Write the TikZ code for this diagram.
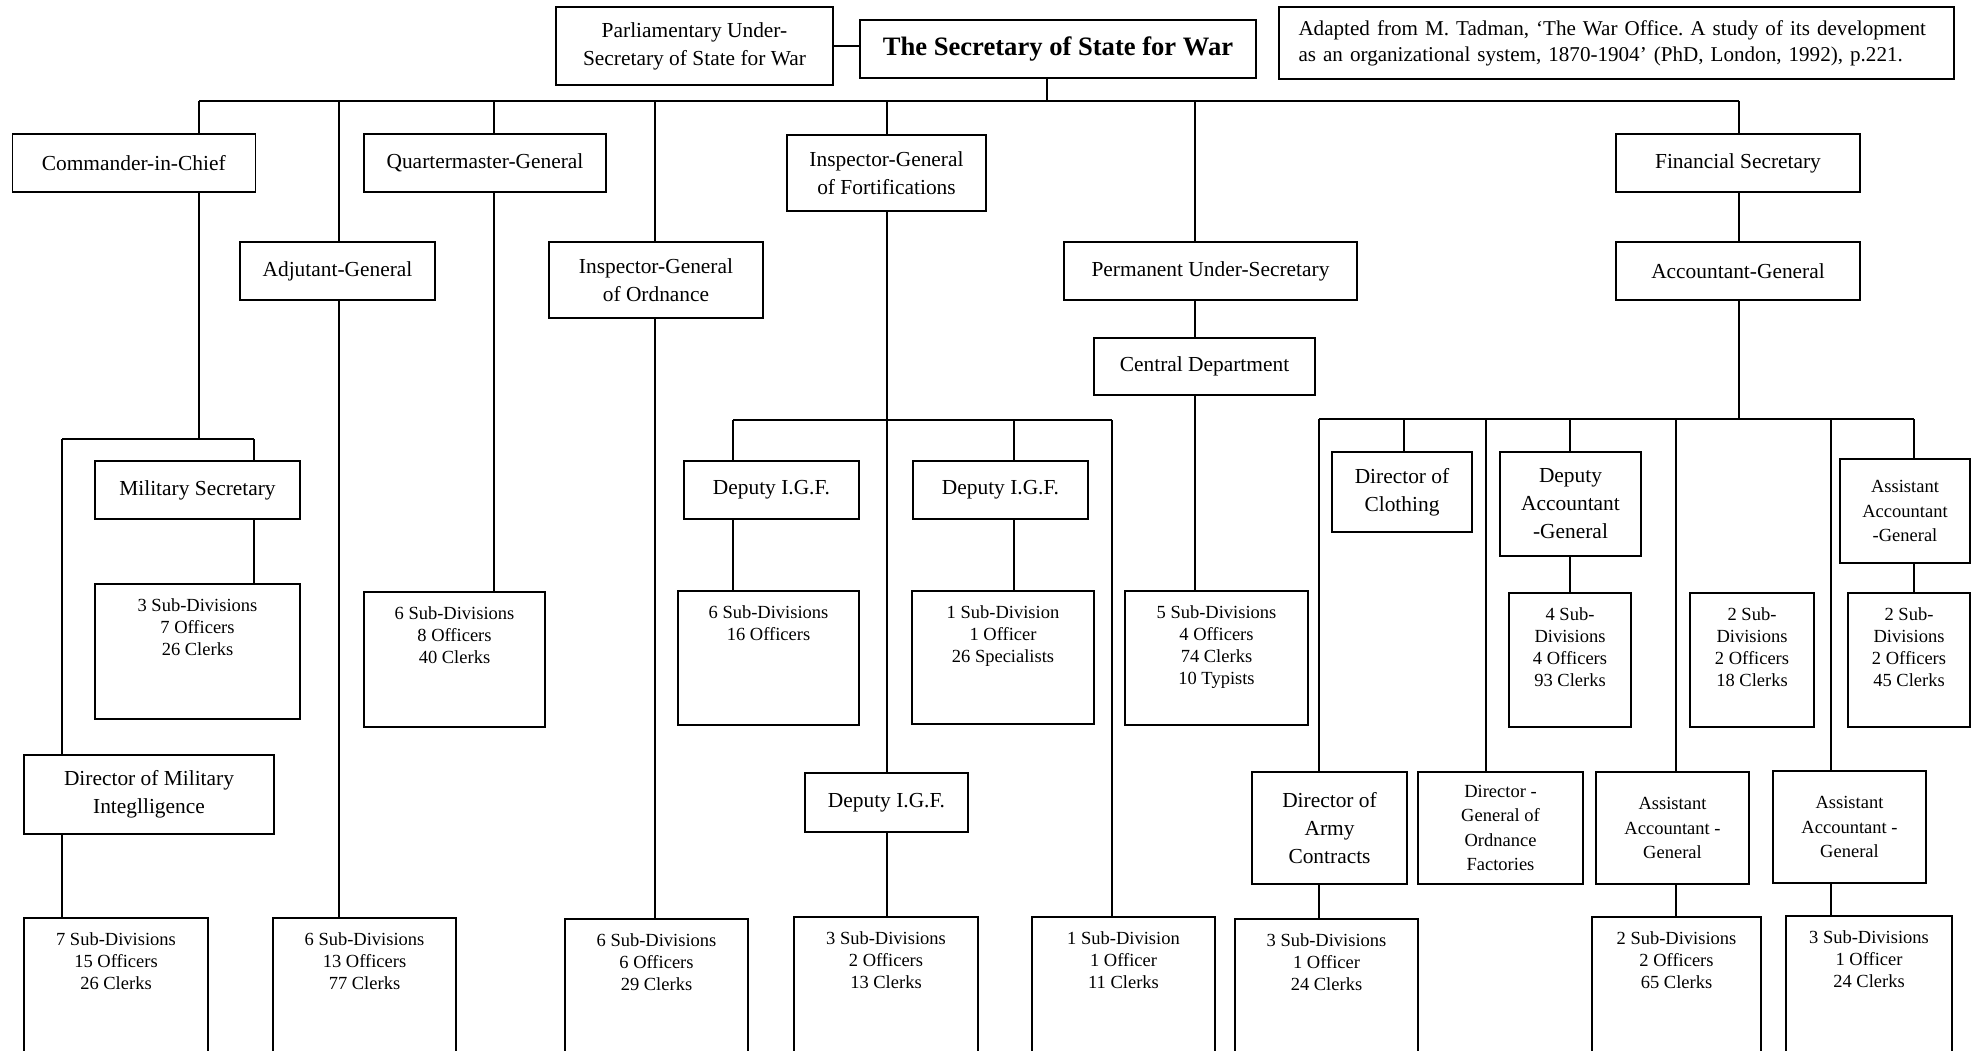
\documentclass[tikz,border=0pt]{standalone}
\usepackage{fontspec}
\setmainfont{Liberation Serif}
\frenchspacing
\newcommand{\tally}[3]{\parbox[t][#2pt][t]{#1pt}{\centering\vspace*{15pt}#3}}
\tikzset{
    office/.style ={
        shape=rectangle,
        draw=black,
        line width=1.3pt,
        inner sep=2pt,
        align=center,
        font=\fontsize{21.4}{28}\selectfont
    },
    smallpost/.style ={
        office,
        font=\fontsize{18.5}{24.5}\selectfont
    },
    staffbox/.style ={
        shape=rectangle,
        draw=black,
        line width=1.3pt,
        inner sep=0pt,
        font=\fontsize{18.5}{22}\selectfont
    },
    wire/.style ={
        line width=1.1pt
    }
}

\begin{document}
\begin{tikzpicture}[x=1pt,y=-1pt]
    \useasboundingbox (0,0) rectangle (1971,1051);
    \clip (0,0) rectangle (1971,1051);
    % heads
    \node[office, minimum width=277, minimum height=78] (par) at(694.5,46) {Parliamentary Under-\\Secretary of State for War};
    \node[office, minimum width=396, minimum height=58, font=\fontsize{26.6}{32}\selectfont\bfseries] (sec) at(1058,49) {The Secretary of State for War};
    \node[office, minimum width=675, minimum height=72, text width=636, align=left, font=\fontsize{21.1}{26}\selectfont] (note) at(1616.5,43) {Adapted from M. Tadman, ‘The War Office. A study of its development\\as an organizational system, 1870-1904’ (PhD, London, 1992), p.221.};
    \node[office, minimum width=243, minimum height=58] (cinc) at(133.75,163) {Commander-in-Chief};
    \node[office, minimum width=242, minimum height=58] (qmg) at(485,163) {Quartermaster-General};
    \node[office, minimum width=199, minimum height=76] (igf) at(886.5,173) {Inspector-General\\of Fortifications};
    \node[office, minimum width=244, minimum height=58] (fin) at(1738,163) {Financial Secretary};
    \node[office, minimum width=195, minimum height=58] (adj) at(337.5,271) {Adjutant-General};
    \node[office, minimum width=214, minimum height=76] (igo) at(656,280) {Inspector-General\\of Ordnance};
    \node[office, minimum width=293, minimum height=58] (pus) at(1210.5,271) {Permanent Under-Secretary};
    \node[office, minimum width=244, minimum height=58] (acc) at(1738,271) {Accountant-General};
    \node[office, minimum width=221, minimum height=57] (cen) at(1204.5,366.5) {Central Department};
    % commander-in-chief
    \node[office, minimum width=205, minimum height=58] (msec) at(197.5,490) {Military Secretary};
    \node[staffbox] (msub) at(197.5,651.5) {\tally{205}{135}{3 Sub-Divisions\\7 Officers\\26 Clerks}};
    \node[office, minimum width=250, minimum height=79] (dmi) at(149,794.5) {Director of Military\\Integlligence};
    \node[staffbox] (dmisub) at(116,998) {\tally{184}{160}{7 Sub-Divisions\\15 Officers\\26 Clerks}};
    \node[staffbox] (adjsub) at(364.5,998) {\tally{183}{160}{6 Sub-Divisions\\13 Officers\\77 Clerks}};
    \node[staffbox] (qmgsub) at(454.5,659.5) {\tally{181}{135}{6 Sub-Divisions\\8 Officers\\40 Clerks}};
    \node[staffbox] (igosub) at(656.5,999) {\tally{183}{160}{6 Sub-Divisions\\6 Officers\\29 Clerks}};
    % fortifications
    \node[office, minimum width=175, minimum height=58] (digfa) at(771.5,490) {Deputy I.G.F.};
    \node[office, minimum width=175, minimum height=58] (digfb) at(1000.5,490) {Deputy I.G.F.};
    \node[staffbox] (digfasub) at(768.5,658) {\tally{181}{134}{6 Sub-Divisions\\16 Officers}};
    \node[staffbox] (digfbsub) at(1003,657.5) {\tally{182}{133}{1 Sub-Division\\1 Officer\\26 Specialists}};
    \node[office, minimum width=163, minimum height=59] (digfc) at(886.5,802.5) {Deputy I.G.F.};
    \node[staffbox] (digfcsub) at(886,997) {\tally{184}{160}{3 Sub-Divisions\\2 Officers\\13 Clerks}};
    \node[staffbox] (igfsub) at(1123.5,997) {\tally{183}{160}{1 Sub-Division\\1 Officer\\11 Clerks}};
    \node[staffbox] (censub) at(1216.5,658) {\tally{183}{134}{5 Sub-Divisions\\4 Officers\\74 Clerks\\10 Typists}};
    % accountant-general
    \node[office, minimum width=140, minimum height=80] (dclo) at(1402,492) {Director of\\Clothing};
    \node[office, minimum width=141, minimum height=104] (dag) at(1570.5,504) {Deputy\\Accountant\\-General};
    \node[staffbox] (dagsub) at(1570,660) {\tally{122}{134}{4 Sub-\\Divisions\\4 Officers\\93 Clerks}};
    \node[staffbox] (spare) at(1752,660) {\tally{124}{134}{2 Sub-\\Divisions\\2 Officers\\18 Clerks}};
    \node[smallpost, minimum width=130, minimum height=104] (aaga) at(1905,511) {Assistant\\Accountant\\-General};
    \node[staffbox] (aagasub) at(1909,660) {\tally{122}{134}{2 Sub-\\Divisions\\2 Officers\\45 Clerks}};
    \node[office, minimum width=155, minimum height=112] (dac) at(1329.5,828) {Director of\\Army\\Contracts};
    \node[staffbox] (dacsub) at(1326.5,999) {\tally{183}{160}{3 Sub-Divisions\\1 Officer\\24 Clerks}};
    \node[smallpost, minimum width=165, minimum height=112] (dgof) at(1500.5,828) {Director -\\General of\\Ordnance\\Factories};
    \node[smallpost, minimum width=153, minimum height=112] (aagb) at(1672.5,828) {Assistant\\Accountant -\\General};
    \node[staffbox] (aagbsub) at(1676.5,997) {\tally{169}{160}{2 Sub-Divisions\\2 Officers\\65 Clerks}};
    \node[smallpost, minimum width=153, minimum height=112] (aagc) at(1849.5,827) {Assistant\\Accountant -\\General};
    \node[staffbox] (aagcsub) at(1869,996) {\tally{166}{160}{3 Sub-Divisions\\1 Officer\\24 Clerks}};
    % junctions
    \coordinate (hub) at(1047,101);
    \coordinate (tcinc) at(199,101);
    \coordinate (tadj) at(339,101);
    \coordinate (tqmg) at(494,101);
    \coordinate (tigo) at(655,101);
    \coordinate (tigf) at(887,101);
    \coordinate (tpus) at(1195,101);
    \coordinate (tfin) at(1739,101);
    \coordinate (cleft) at(62,439);
    \coordinate (cright) at(254,439);
    \coordinate (fleft) at(733,420);
    \coordinate (fmid) at(1014,420);
    \coordinate (fright) at(1112,420);
    \coordinate (aleft) at(1319,419);
    \coordinate (aclo) at(1404,419);
    \coordinate (aord) at(1486,419);
    \coordinate (adep) at(1570,419);
    \coordinate (aasb) at(1676,419);
    \coordinate (aasc) at(1831,419);
    \coordinate (aright) at(1914,419);
    % lines
    \draw[wire] (par.east) -- (par.east -| sec.west);
    \draw[wire] (sec.south -| hub) -- (hub);
    \draw[wire] (tcinc) -- (tfin);
    \draw[wire] (tcinc) -- (tcinc |- cinc.north);
    \draw[wire] (tcinc |- cinc.south) -- (tcinc |- cleft);
    \draw[wire] (cleft) -- (cright);
    \draw[wire] (cright) -- (cright |- msec.north);
    \draw[wire] (cright |- msec.south) -- (cright |- msub.north);
    \draw[wire] (cleft) -- (cleft |- dmi.north);
    \draw[wire] (cleft |- dmi.south) -- (cleft |- dmisub.north);
    \draw[wire] (tadj) -- (tadj |- adj.north);
    \draw[wire] (tadj |- adj.south) -- (tadj |- adjsub.north);
    \draw[wire] (tqmg) -- (tqmg |- qmg.north);
    \draw[wire] (tqmg |- qmg.south) -- (tqmg |- qmgsub.north);
    \draw[wire] (tigo) -- (tigo |- igo.north);
    \draw[wire] (tigo |- igo.south) -- (tigo |- igosub.north);
    \draw[wire] (tigf) -- (tigf |- igf.north);
    \draw[wire] (tigf |- igf.south) -- (tigf |- digfc.north);
    \draw[wire] (tigf |- digfc.south) -- (tigf |- digfcsub.north);
    \draw[wire] (fleft) -- (fright);
    \draw[wire] (fleft) -- (fleft |- digfa.north);
    \draw[wire] (fleft |- digfa.south) -- (fleft |- digfasub.north);
    \draw[wire] (fmid) -- (fmid |- digfb.north);
    \draw[wire] (fmid |- digfb.south) -- (fmid |- digfbsub.north);
    \draw[wire] (fright) -- (fright |- igfsub.north);
    \draw[wire] (tpus) -- (tpus |- pus.north);
    \draw[wire] (tpus |- pus.south) -- (tpus |- cen.north);
    \draw[wire] (tpus |- cen.south) -- (tpus |- censub.north);
    \draw[wire] (tfin) -- (tfin |- fin.north);
    \draw[wire] (tfin |- fin.south) -- (tfin |- acc.north);
    \draw[wire] (tfin |- acc.south) -- (tfin |- aleft);
    \draw[wire] (aleft) -- (aright);
    \draw[wire] (aleft) -- (aleft |- dac.north);
    \draw[wire] (aleft |- dac.south) -- (aleft |- dacsub.north);
    \draw[wire] (aclo) -- (aclo |- dclo.north);
    \draw[wire] (aord) -- (aord |- dgof.north);
    \draw[wire] (adep) -- (adep |- dag.north);
    \draw[wire] (adep |- dag.south) -- (adep |- dagsub.north);
    \draw[wire] (aasb) -- (aasb |- aagb.north);
    \draw[wire] (aasb |- aagb.south) -- (aasb |- aagbsub.north);
    \draw[wire] (aasc) -- (aasc |- aagc.north);
    \draw[wire] (aasc |- aagc.south) -- (aasc |- aagcsub.north);
    \draw[wire] (aright) -- (aright |- aaga.north);
    \draw[wire] (aright |- aaga.south) -- (aright |- aagasub.north);
\end{tikzpicture}
\end{document}
